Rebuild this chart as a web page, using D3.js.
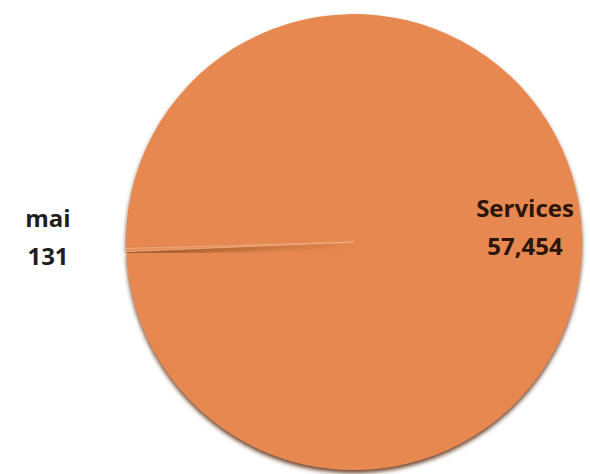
<!DOCTYPE html>
<html>
<head>
<meta charset="utf-8">
<script src="https://cdn.jsdelivr.net/npm/d3@7"></script>
<style>
  body { margin: 0; background: #fff; }
  svg { display: block; }
</style>
</head>
<body>
<div id="chart"></div>
<script>
// pie data
const categories = ["Services", "mai"];
const values = [57454, 131];
const valueLabels = ["57,454", "131"];

const width = 590, height = 474;
const cx = 354, cy = 242, radius = 228;

const svg = d3.select('#chart')
  .append('svg')
  .attr('width', width)
  .attr('height', height);

// soft shadow under the pie
const defs = svg.append('defs');
const f = defs.append('filter').attr('id', 'shade')
  .attr('x', '-10%').attr('y', '-10%').attr('width', '120%').attr('height', '120%');
f.append('feGaussianBlur').attr('in', 'SourceAlpha').attr('stdDeviation', 2);
f.append('feOffset').attr('dx', 0).attr('dy', 3).attr('result', 'off');
f.append('feFlood').attr('flood-color', '#5a2a10').attr('flood-opacity', 0.9);
f.append('feComposite').attr('in2', 'off').attr('operator', 'in');
const m = f.append('feMerge');
m.append('feMergeNode');
m.append('feMergeNode').attr('in', 'SourceGraphic');

const g = svg.append('g').attr('transform', `translate(${cx},${cy})`);

// start so that the thin "mai" slice points left
const start = -91.6 * Math.PI / 180;
const pie = d3.pie().sort(null).startAngle(start).endAngle(start + 2 * Math.PI);
const arcs = pie(values);

const arc = d3.arc().innerRadius(0).outerRadius(radius);

const color = d3.scaleOrdinal().domain(categories).range(['#e6884f', '#eb8d56']);

g.selectAll('path.slice')
  .data(arcs)
  .enter().append('path')
  .attr('class', 'slice')
  .attr('d', arc)
  .attr('fill', (d, i) => color(categories[i]))
  .attr('filter', 'url(#shade)');

// thin light edge of the small slice
g.selectAll('path.edge')
  .data(arcs.filter((d, i) => i === 1))
  .enter().append('path')
  .attr('class', 'edge')
  .attr('d', arc)
  .attr('fill', 'none')
  .attr('stroke', '#f4c29c')
  .attr('stroke-width', 1)
  .attr('stroke-opacity', 0.6);

// labels
const labelPos = [[525, 217], [48, 227]];
const labelColor = ['#2b1509', '#1e1e1e'];

categories.forEach((c, i) => {
  const t = svg.append('text')
    .attr('x', labelPos[i][0])
    .attr('y', labelPos[i][1])
    .attr('text-anchor', 'middle')
    .attr('fill', labelColor[i])
    .style('font-family', '"Open Sans", sans-serif')
    .style('font-weight', 700)
    .style('font-size', '24px');
  t.append('tspan').attr('x', labelPos[i][0]).text(c);
  t.append('tspan').attr('x', labelPos[i][0]).attr('dy', 38).text(valueLabels[i]);
});
</script>
</body>
</html>
